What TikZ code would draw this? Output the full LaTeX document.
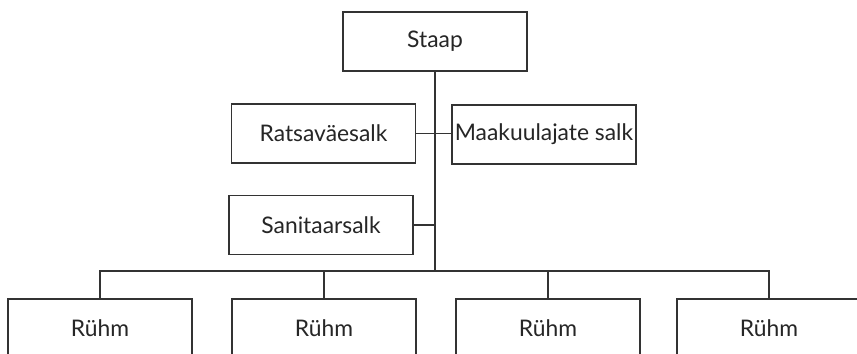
\documentclass[tikz,border=0pt]{standalone}
\usepackage{fontspec}
\setmainfont{Lato}
\usepackage{tikz}
\usetikzlibrary{positioning}

\begin{document}
\begin{tikzpicture}[
      x=0.02cm, y=-0.02cm,
      unit/.style={
        draw=black!80,
        line width=0.8pt,
        rectangle,
        fill=white,
        minimum width=3.68cm,
        minimum height=1.18cm,
        inner sep=0pt,
        text=black!85,
        font=\fontsize{13}{15}\selectfont
      },
      link/.style={
        -,
        draw=black!80,
        line width=0.8pt
      }
      ]
        \clip (0,0) rectangle (857,354);

        \node[unit] (staap) at (435,41.5) {Staap};
        \node[unit] (rats) at (323.5,133.5) {Ratsaväesalk};
        \node[unit] (maak) at (544,134.5) {Maakuulajate salk};
        \node[unit] (sanit) at (321,225) {Sanitaarsalk};

        \node[unit] (ruhm1) at (100,328.5) {Rühm};
        \node[unit] (ruhm2) at (324,328.5) {Rühm};
        \node[unit] (ruhm3) at (548,328.5) {Rühm};
        \node[unit] (ruhm4) at (769,328.5) {Rühm};

        % tüvi ja siin
        \coordinate (bus) at (435,271);
        \draw[link] (staap.south) -- (bus);
        \draw[link] (rats.east) -- (rats.east -| maak.west);
        \draw[link] (sanit.east) -- (sanit.east -| bus);

        \draw[link] (ruhm1.north) |- (bus) -| (ruhm4.north);
        \foreach \i in {2,3}
          \draw[link] (ruhm\i.north) -- (ruhm\i.north |- bus);
    \end{tikzpicture}
\end{document}
